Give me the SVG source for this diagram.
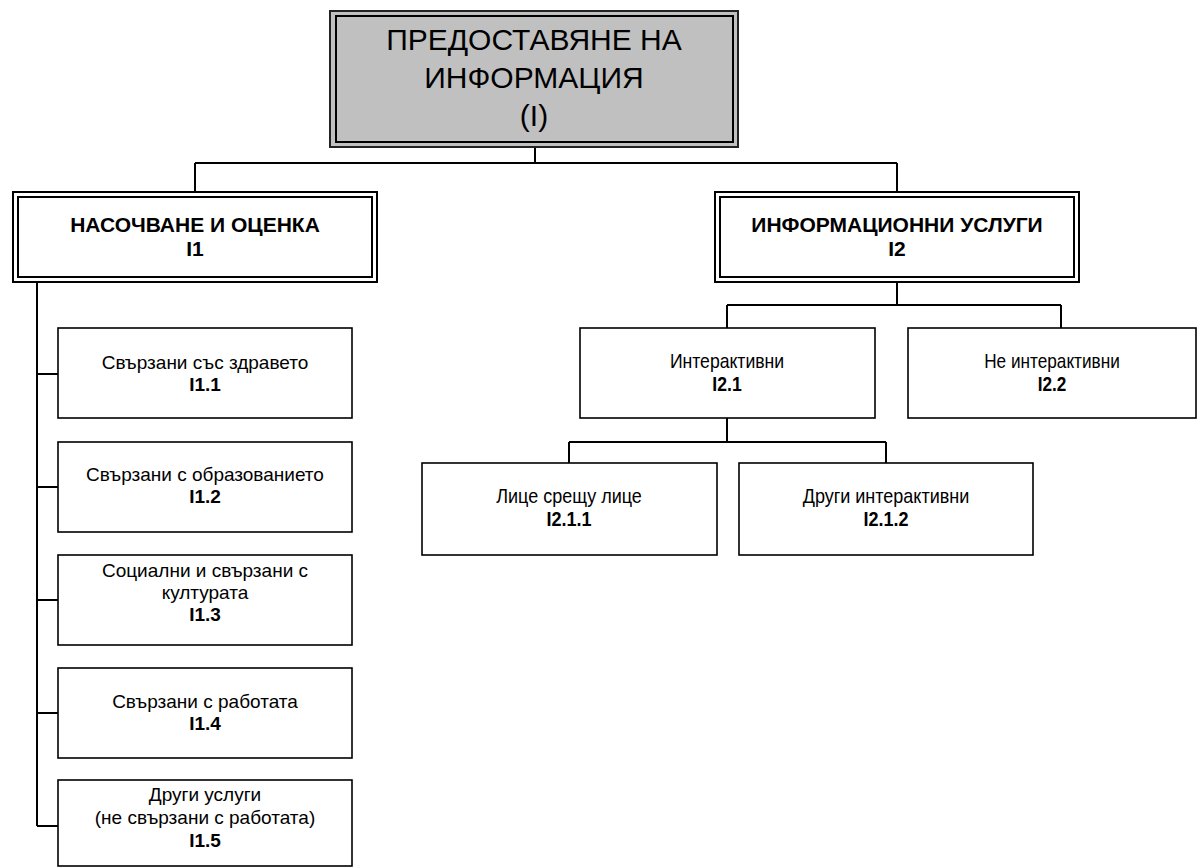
<svg xmlns="http://www.w3.org/2000/svg" width="1200" height="867" viewBox="0 0 1200 867">
  <style>
    .t { font-family: "Liberation Sans", Arial, sans-serif; text-anchor: middle; fill: #000; }
    .title { font-size: 30px; }
    .head { font-size: 21px; font-weight: bold; }
    .lbl { font-size: 19px; }
    .code { font-size: 19px; font-weight: bold; }
    .nlbl { font-size: 20px; }
    .ncode { font-size: 20px; font-weight: bold; }
    .dbl { fill: none; stroke: #000; stroke-width: 2; }
    .box { fill: #fff; stroke: #000; stroke-width: 1.6; }
    .wire { fill: none; stroke: #000; stroke-width: 2; }
  </style>

  <!-- connectors -->
  <g id="connectors" class="wire">
    <path d="M535 147 V163 M195 163 H897 M195 163 V193 M897 163 V192"/>
    <path d="M897 282 V305 M727 305 H1061 M727 305 V328 M1061 305 V328"/>
    <path d="M727 418 V442 M569 442 H886 M569 442 V463 M886 442 V463"/>
    <path d="M37 277 V826 M37 374 H58 M37 487 H58 M37 600 H58 M37 713 H58 M37 826 H58"/>
  </g>

  <!-- root -->
  <g id="root">
    <rect x="330" y="11" width="408" height="136" fill="#c0c0c0" stroke="#222" stroke-width="2"/>
    <rect x="336" y="16" width="397" height="126" class="dbl"/>
    <text class="t title" x="534" y="50">ПРЕДОСТАВЯНЕ НА</text>
    <text class="t title" x="534" y="88">ИНФОРМАЦИЯ</text>
    <text class="t title" x="534" y="126">(I)</text>
  </g>

  <!-- I1 -->
  <g id="i1">
    <rect x="13" y="192" width="364" height="90" fill="#fff" stroke="#000" stroke-width="2"/>
    <rect x="18" y="197" width="354" height="80" class="dbl"/>
    <text class="t head" x="195" y="232">НАСОЧВАНЕ И ОЦЕНКА</text>
    <text class="t head" x="195" y="256">I1</text>
  </g>

  <!-- I2 -->
  <g id="i2">
    <rect x="715" y="192" width="364" height="90" fill="#fff" stroke="#000" stroke-width="2"/>
    <rect x="720" y="197" width="354" height="80" class="dbl"/>
    <text class="t head" x="897" y="232">ИНФОРМАЦИОННИ УСЛУГИ</text>
    <text class="t head" x="897" y="256">I2</text>
  </g>

  <!-- I1 children -->
  <g id="i1-1">
    <rect x="58" y="328" width="294" height="90" class="box"/>
    <text class="t lbl" x="205" y="369">Свързани със здравето</text>
    <text class="t code" x="205" y="391">I1.1</text>
  </g>
  <g id="i1-2">
    <rect x="58" y="442" width="294" height="90" class="box"/>
    <text class="t lbl" x="205" y="481">Свързани с образованието</text>
    <text class="t code" x="205" y="503">I1.2</text>
  </g>
  <g id="i1-3">
    <rect x="58" y="555" width="294" height="90" class="box"/>
    <text class="t lbl" x="205" y="577">Социални и свързани с</text>
    <text class="t lbl" x="205" y="599">културата</text>
    <text class="t code" x="205" y="621">I1.3</text>
  </g>
  <g id="i1-4">
    <rect x="58" y="668" width="294" height="90" class="box"/>
    <text class="t lbl" x="205" y="708">Свързани с работата</text>
    <text class="t code" x="205" y="730">I1.4</text>
  </g>
  <g id="i1-5">
    <rect x="58" y="780" width="294" height="86" class="box"/>
    <text class="t lbl" x="205" y="801">Други услуги</text>
    <text class="t lbl" x="205" y="824">(не свързани с работата)</text>
    <text class="t code" x="205" y="847">I1.5</text>
  </g>

  <!-- I2 children: narrower lettering -->
  <g id="i2-1">
    <rect x="580" y="328" width="295" height="90" class="box"/>
    <g transform="translate(727 0) scale(0.88 1)">
      <text class="t nlbl" x="0" y="368">Интерактивни</text>
      <text class="t ncode" x="0" y="391">I2.1</text>
    </g>
  </g>
  <g id="i2-2">
    <rect x="908" y="328" width="288" height="90" class="box"/>
    <g transform="translate(1052 0) scale(0.86 1)">
      <text class="t nlbl" x="0" y="368">Не интерактивни</text>
      <text class="t ncode" x="0" y="391">I2.2</text>
    </g>
  </g>
  <g id="i2-1-1">
    <rect x="422" y="463" width="295" height="92" class="box"/>
    <g transform="translate(569 0) scale(0.9 1)">
      <text class="t nlbl" x="0" y="503">Лице срещу лице</text>
      <text class="t ncode" x="0" y="526">I2.1.1</text>
    </g>
  </g>
  <g id="i2-1-2">
    <rect x="739" y="463" width="294" height="92" class="box"/>
    <g transform="translate(886 0) scale(0.9 1)">
      <text class="t nlbl" x="0" y="503">Други интерактивни</text>
      <text class="t ncode" x="0" y="526">I2.1.2</text>
    </g>
  </g>
</svg>
